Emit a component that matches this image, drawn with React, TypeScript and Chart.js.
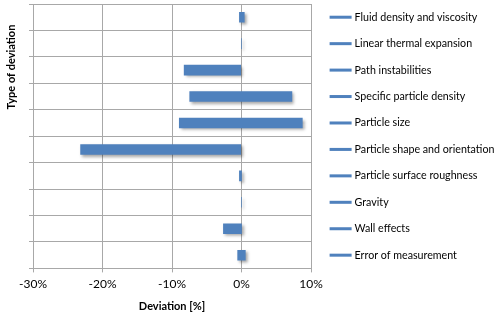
import React, { useEffect, useRef } from "react";
import { Chart, registerables } from "chart.js";

Chart.register(...registerables);

const categories = [
  "Fluid density and viscosity",
  "Linear thermal expansion",
  "Path instabilities",
  "Specific particle density",
  "Particle size",
  "Particle shape and orientation",
  "Particle surface roughness",
  "Gravity",
  "Wall effects",
  "Error of measurement",
];
const lowValues = [-0.35, -0.05, -8.3, -7.5, -9.0, -23.2, -0.35, -0.05, -2.65, -0.6];
const highValues = [0.45, 0.05, 0, 7.3, 8.8, 0, 0.05, 0.05, 0.05, 0.6];
const xTickValues = [-30, -20, -10, 0, 10];

const xTitle = "Deviation [%]";
const yTitle = "Type of deviation";

const BAR_COLOR = "#4F81BD";
const GRID_COLOR = "#a8a8a8";
const FONT = "Lato, 'Open Sans', sans-serif";
const LEGEND_TEXT_WIDTH = 140;

const shadowPlugin = {
  id: "barShadow",
  beforeDatasetsDraw(chart: any) {
    const ctx = chart.ctx;
    ctx.save();
    ctx.shadowColor = "rgba(0,0,0,0.35)";
    ctx.shadowBlur = 3;
    ctx.shadowOffsetX = 2;
    ctx.shadowOffsetY = 2;
  },
  afterDatasetsDraw(chart: any) {
    chart.ctx.restore();
  },
};

const rowLegendPlugin = {
  id: "rowLegend",
  afterDraw(chart: any) {
    const { ctx, chartArea, scales } = chart;
    const y = scales.y;
    ctx.save();
    ctx.font = `11px ${FONT}`;
    let longest = 0;
    chart.data.datasets.forEach((ds: any) => {
      longest = Math.max(longest, ctx.measureText(ds.label).width);
    });
    const size = Math.min(12.5, (11 * LEGEND_TEXT_WIDTH) / longest);
    ctx.font = `${size.toFixed(2)}px ${FONT}`;
    const textX = chartArea.right + 43.6;
    chart.data.datasets.forEach((ds: any, i: number) => {
      const py = y.getPixelForValue(i);
      ctx.fillStyle = BAR_COLOR;
      ctx.fillRect(chartArea.right + 18.6, py - 1.5, 22, 3);
      ctx.fillStyle = "#000";
      ctx.textBaseline = "middle";
      ctx.textAlign = "left";
      ctx.fillText(ds.label, textX, py, 500 - textX - 3);
    });
    ctx.restore();
  },
};

const yTitlePlugin = {
  id: "yTitle",
  afterDraw(chart: any) {
    const { ctx } = chart;
    ctx.save();
    ctx.translate(11.5, 67);
    ctx.rotate(-Math.PI / 2);
    ctx.font = `bold 11px ${FONT}`;
    ctx.fillStyle = "#000";
    ctx.textAlign = "center";
    ctx.textBaseline = "middle";
    ctx.fillText(yTitle, 0, 0);
    ctx.restore();
  },
};

export default function App() {
  const ref = useRef<HTMLCanvasElement>(null);

  useEffect(() => {
    document.body.style.margin = "0";
    const canvas = ref.current;
    if (!canvas) return;

    const datasets = categories.map((label, i) => ({
      label,
      data: categories.map((_, j) => (j === i ? [lowValues[i], highValues[i]] : null)),
      backgroundColor: BAR_COLOR,
      borderWidth: 0,
      grouped: false,
      barPercentage: 0.4,
      categoryPercentage: 1,
    }));

    const chart = new Chart(canvas, {
      type: "bar",
      data: { labels: categories, datasets: datasets as any },
      options: {
        indexAxis: "y",
        responsive: false,
        animation: false,
        layout: { padding: { left: 29, top: 4, right: 189, bottom: 0 } },
        plugins: {
          legend: { display: false },
          tooltip: { enabled: false },
        },
        scales: {
          x: {
            type: "linear",
            min: -30,
            max: 10,
            afterBuildTicks: (axis: any) => {
              axis.ticks = xTickValues.map((v) => ({ value: v }));
            },
            ticks: {
              callback: (v: any) => `${v}%`,
              font: { family: FONT, size: 12 },
              color: "#000",
              padding: 5,
            },
            grid: { color: GRID_COLOR, lineWidth: 1, tickLength: 4 },
            border: { color: GRID_COLOR },
            title: {
              display: true,
              text: xTitle,
              font: { family: FONT, size: 11, weight: "bold" },
              color: "#000",
              padding: { top: 3, bottom: 4 },
            },
          },
          y: {
            type: "category",
            offset: true,
            ticks: { display: false },
            grid: { color: GRID_COLOR, lineWidth: 1, offset: true, tickLength: 4 },
            border: { color: GRID_COLOR },
          },
        },
      },
      plugins: [shadowPlugin, rowLegendPlugin, yTitlePlugin],
    });

    return () => chart.destroy();
  }, []);

  return (
    <div style={{ width: 500, height: 317 }}>
      <canvas ref={ref} width={500} height={317} />
    </div>
  );
}
